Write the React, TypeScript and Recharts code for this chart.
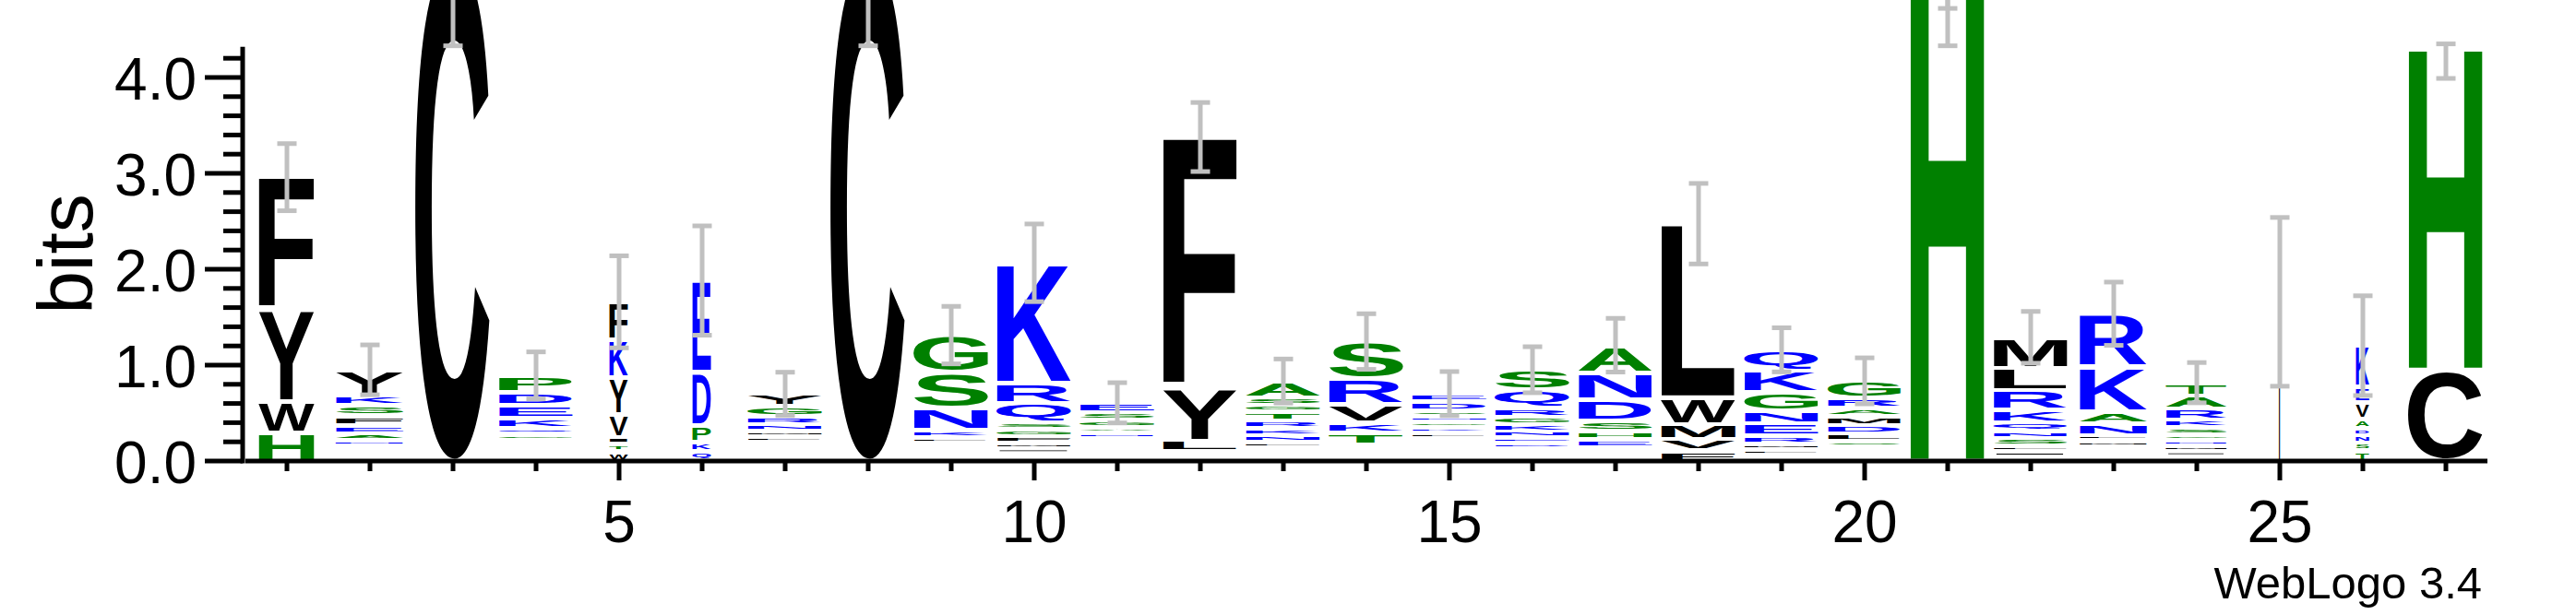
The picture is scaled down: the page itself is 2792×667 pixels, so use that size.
import { ComposedChart, Bar, Scatter, ErrorBar, XAxis, YAxis, ReferenceLine, Label } from 'recharts';

// sequence logo: one stack of letters per position, listed top -> bottom
const positions = [1, 2, 3, 4, 5, 6, 7, 8, 9, 10, 11, 12, 13, 14, 15, 16, 17, 18, 19, 20, 21, 22, 23, 24, 25, 26, 27];

const stackLetters = [
	'FYWH', 'YKSFEANTIMW', 'C', 'PDEKQGNSATL', 'FKYVITW', 'EDPKQ', 'YGRNMLIFVWE', 'C', 'GSNKLTDQEA',
	'KRQSGFMIVL', 'ESGANKRDTQL', 'FYLWIM', 'ASGTRKNLDEQI', 'SRVKTNQEG', 'EDSNGKLRQTAIM', 'SQRGKNEDTAL',
	'ANDSHEKQRT', 'LWMVF', 'QKGNERMLSD', 'GRAMDLSKNEQ', 'H', 'MLRKQNSFIVW', 'RKANLMQSED', 'TARKSGNMIQE',
	'I', 'KEVADNST', 'HC',
];

const stackBits = [
	[1.38, 0.96, 0.33, 0.29],
	[0.26, 0.11, 0.107, 0.1, 0.087, 0.072, 0.055, 0.04, 0.04, 0.04, 0.04],
	[5.25],
	[0.173, 0.136, 0.134, 0.11, 0.061, 0.059, 0.044, 0.044, 0.044, 0.044, 0.044],
	[0.4, 0.39, 0.38, 0.24, 0.075, 0.075, 0.1],
	[0.956, 0.554, 0.172, 0.1, 0.1],
	[0.13, 0.103, 0.085, 0.067, 0.06, 0.055, 0.04, 0.04, 0.04, 0.04, 0.04],
	[5.25],
	[0.39, 0.371, 0.233, 0.074, 0.055, 0.038, 0.038, 0.038, 0.038, 0.038],
	[1.255, 0.209, 0.202, 0.072, 0.07, 0.069, 0.055, 0.055, 0.04, 0.04],
	[0.103, 0.077, 0.076, 0.056, 0.055, 0.04, 0.04, 0.04, 0.04, 0.04, 0.04],
	[2.613, 0.554, 0.113, 0.033, 0.033, 0.033],
	[0.174, 0.077, 0.072, 0.092, 0.079, 0.075, 0.069, 0.056, 0.035, 0.035, 0.035, 0.035],
	[0.387, 0.267, 0.189, 0.113, 0.122, 0.042, 0.042, 0.042, 0.042],
	[0.085, 0.09, 0.059, 0.06, 0.056, 0.058, 0.055, 0.04, 0.04, 0.04, 0.04, 0.04, 0.04],
	[0.212, 0.185, 0.094, 0.077, 0.076, 0.065, 0.056, 0.058, 0.043, 0.043, 0.043],
	[0.286, 0.278, 0.22, 0.113, 0.088, 0.087, 0.034, 0.034, 0.034, 0.034],
	[1.814, 0.278, 0.159, 0.117, 0.107],
	[0.218, 0.226, 0.195, 0.132, 0.125, 0.08, 0.0625, 0.055, 0.033, 0.033],
	[0.18, 0.101, 0.088, 0.092, 0.091, 0.077, 0.055, 0.038, 0.038, 0.038, 0.038],
	[5.3],
	[0.319, 0.237, 0.2, 0.131, 0.092, 0.075, 0.078, 0.059, 0.055, 0.022, 0.022],
	[0.55, 0.471, 0.122, 0.123, 0.057, 0.059, 0.0385, 0.0385, 0.0385, 0.0385],
	[0.135, 0.141, 0.116, 0.076, 0.074, 0.059, 0.058, 0.055, 0.055, 0.024, 0.024],
	[1.66],
	[0.43, 0.16, 0.17, 0.1, 0.073, 0.08, 0.08, 0.11],
	[3.4, 0.95],
];

// fraction of sequences present (scales the stack width)
const occupancy = [0.75, 0.91, 1, 0.99, 0.25, 0.25, 1, 1, 1, 1, 1, 1, 1, 1, 1, 1, 0.99, 1, 0.99, 0.98, 1, 0.99, 0.91, 0.82, 0.015, 0.18, 1];

const errLow = [0.35, 0.26, 0.92, 0.245, 0.48, 0.57, 0.226, 0.92, 0.3, 0.405, 0.21, 0.36, 0.23, 0.29, 0.23, 0.24, 0.28, 0.42, 0.23, 0.24, 0.97, 0.27, 0.33, 0.21, 0.88, 0.52, 0.36];
const errHigh = [0.35, 0.26, 0.3, 0.245, 0.48, 0.57, 0.226, 0.3, 0.3, 0.405, 0.21, 0.36, 0.23, 0.29, 0.23, 0.24, 0.28, 0.42, 0.23, 0.24, 0.3, 0.27, 0.33, 0.21, 0.88, 0.52, 0];
// extra cap below the stack top (only where the logo shows one)
const errInnerCap: (number | null)[] = [null, null, null, null, null, null, null, null, null, null, null, null, null, null, null, null, null, null, null, null, 0.58, null, null, null, null, null, null];

const BITS_MAX = 4.32; // log2(20)
const OVERHANG = 60; // px of plot hidden above the page
const Y_TOP = (500 + OVERHANG) / 104;
const GAP = 4.8;
const FONT = "'Liberation Sans', Arial, Helvetica, sans-serif";
const GREEN = '#008000';
const BLUE = '#0000ff';
const BLACK = '#000000';
const ERR_GRAY = '#c0c0c0';

const bitsTicks = Array.from({ length: 22 }, (_, i) => Math.round(i * 2) / 10);

function colorOf(ch: string) {
	if ('GSTHPA'.includes(ch)) return GREEN;
	if ('KRDENQ'.includes(ch)) return BLUE;
	return BLACK;
}

type Ink = { left: number; right: number; ascent: number; descent: number };
const inkCache: Record<string, Ink> = {};

// ink box of a glyph at 100px, so the letter can be stretched to fill its cell
function inkOf(ch: string): Ink {
	if (inkCache[ch]) return inkCache[ch];
	let ink: Ink = { left: -5, right: 70, ascent: 72, descent: 0 };
	try {
		const ctx = document.createElement('canvas').getContext('2d');
		if (ctx) {
			ctx.font = `bold 100px ${FONT}`;
			const m = ctx.measureText(ch);
			ink = {
				left: m.actualBoundingBoxLeft,
				right: m.actualBoundingBoxRight,
				ascent: m.actualBoundingBoxAscent,
				descent: m.actualBoundingBoxDescent,
			};
		}
	} catch (e) {
		// keep fallback
	}
	inkCache[ch] = ink;
	return ink;
}

const maxLayers = Math.max(...stackBits.map((b) => b.length));

const data = positions.map((pos, i) => {
	const letters = stackLetters[i].split('').reverse();
	const bits = [...stackBits[i]].reverse();
	const total = bits.reduce((a, b) => a + b, 0);
	const cap = errInnerCap[i];
	const row: any = {
		pos,
		occ: occupancy[i],
		total,
		err: [errLow[i], errHigh[i]],
		cap: cap == null ? undefined : [0, -cap],
	};
	for (let k = 0; k < maxLayers; k++) {
		row[`h${k}`] = bits[k] ?? 0;
		row[`c${k}`] = letters[k] ?? '';
	}
	return row;
});

function letterShape(layer: number) {
	return (props: any) => {
		const { x, y, width, height, payload } = props;
		const ch: string = payload ? payload[`c${layer}`] : '';
		if (!ch || !height || height <= 0) return <g />;
		const w = width * payload.occ;
		const h = height - GAP;
		if (h < 0.3 || w <= 0) return <g />;
		const x0 = x + (width - w) / 2;
		const top = y + GAP / 2;
		const ink = inkOf(ch);
		const sx = w / (ink.left + ink.right);
		const sy = h / (ink.ascent + ink.descent);
		return (
			<text
				transform={`translate(${x0},${top}) scale(${sx},${sy}) translate(${ink.left},${ink.ascent})`}
				fontSize={100}
				fontFamily={FONT}
				fontWeight="bold"
				fill={colorOf(ch)}
			>
				{ch}
			</text>
		);
	};
}

const BitsTick = (props: any) => {
	const { x, y, payload } = props;
	const v = payload.value;
	const major = Math.abs(v - Math.round(v)) < 1e-6;
	const ax = x - 3;
	return (
		<g>
			<line x1={ax - (major ? 41 : 21)} x2={ax} y1={y} y2={y} stroke="#000" strokeWidth={5} />
			{major && (
				<text x={ax - 50} y={y + 2} textAnchor="end" dominantBaseline="central" fontSize={64} fontFamily={FONT} fill="#000">
					{v.toFixed(1)}
				</text>
			)}
		</g>
	);
};

const PosTick = (props: any) => {
	const { x, y, payload } = props;
	const major = payload.value % 5 === 0;
	return (
		<g>
			<line x1={x} x2={x} y1={y} y2={y + (major ? 21 : 11)} stroke="#000" strokeWidth={5} />
			{major && (
				<text x={x} y={y + 66} textAnchor="middle" dominantBaseline="central" fontSize={64} fontFamily={FONT} fill="#000">
					{payload.value}
				</text>
			)}
		</g>
	);
};

const renderBitsLabel = (props: any) => {
	const vb = props.viewBox || { x: 0, y: 0 };
	return (
		<text
			transform={`translate(${vb.x + 100},${vb.y + OVERHANG + 275.5}) rotate(-90)`}
			textAnchor="middle"
			fontSize={84}
			fontFamily={FONT}
			fill="#000"
		>
			bits
		</text>
	);
};

const renderCredit = (props: any) => {
	const vb = props.viewBox || { x: 0, y: 0, width: 0 };
	return (
		<text x={vb.x + vb.width - 6} y={vb.y + 149} textAnchor="end" fontSize={49} fontFamily={FONT} fill="#000">
			WebLogo 3.4
		</text>
	);
};

export default function App() {
	return (
		<div style={{ position: 'absolute', left: 0, top: 0, width: 2792, height: 667, overflow: 'hidden', background: '#fff' }}>
			<div style={{ position: 'absolute', left: 0, top: -OVERHANG }}>
				<ComposedChart
					width={2792}
					height={667 + OVERHANG}
					data={data}
					margin={{ top: 0, right: 96, bottom: 0, left: 0 }}
					barSize={81}
				>
					<XAxis
						type="number"
						dataKey="pos"
						domain={[0.5, 27.5]}
						allowDataOverflow
						ticks={positions}
						interval={0}
						tickLine={false}
						tickSize={0}
						tickMargin={0}
						tick={<PosTick />}
						axisLine={{ stroke: '#000', strokeWidth: 5 }}
						height={167}
					>
						<Label content={renderCredit} />
					</XAxis>
					<YAxis
						type="number"
						domain={[0, Y_TOP]}
						allowDataOverflow
						ticks={bitsTicks}
						interval={0}
						tickLine={false}
						tickSize={0}
						tickMargin={0}
						axisLine={false}
						tick={<BitsTick />}
						width={266}
					>
						<Label content={renderBitsLabel} />
					</YAxis>
					<ReferenceLine
						segment={[
							{ x: 0.5, y: 0 },
							{ x: 0.5, y: BITS_MAX },
						]}
						ifOverflow="visible"
						stroke="#000"
						strokeWidth={5}
						shape={(p: any) => <line x1={p.x1 - 3} x2={p.x2 - 3} y1={p.y1 + 2.5} y2={p.y2} stroke="#000" strokeWidth={5} />}
					/>
					{Array.from({ length: maxLayers }, (_, k) => (
						<Bar key={k} dataKey={`h${k}`} stackId="logo" isAnimationActive={false} shape={letterShape(k)} />
					))}
					<Scatter dataKey="total" isAnimationActive={false} shape={() => <g />}>
						<ErrorBar dataKey="err" direction="y" width={10.5} strokeWidth={5} stroke={ERR_GRAY} />
						<ErrorBar dataKey="cap" direction="y" width={10.5} strokeWidth={5} stroke={ERR_GRAY} />
					</Scatter>
				</ComposedChart>
			</div>
		</div>
	);
}
